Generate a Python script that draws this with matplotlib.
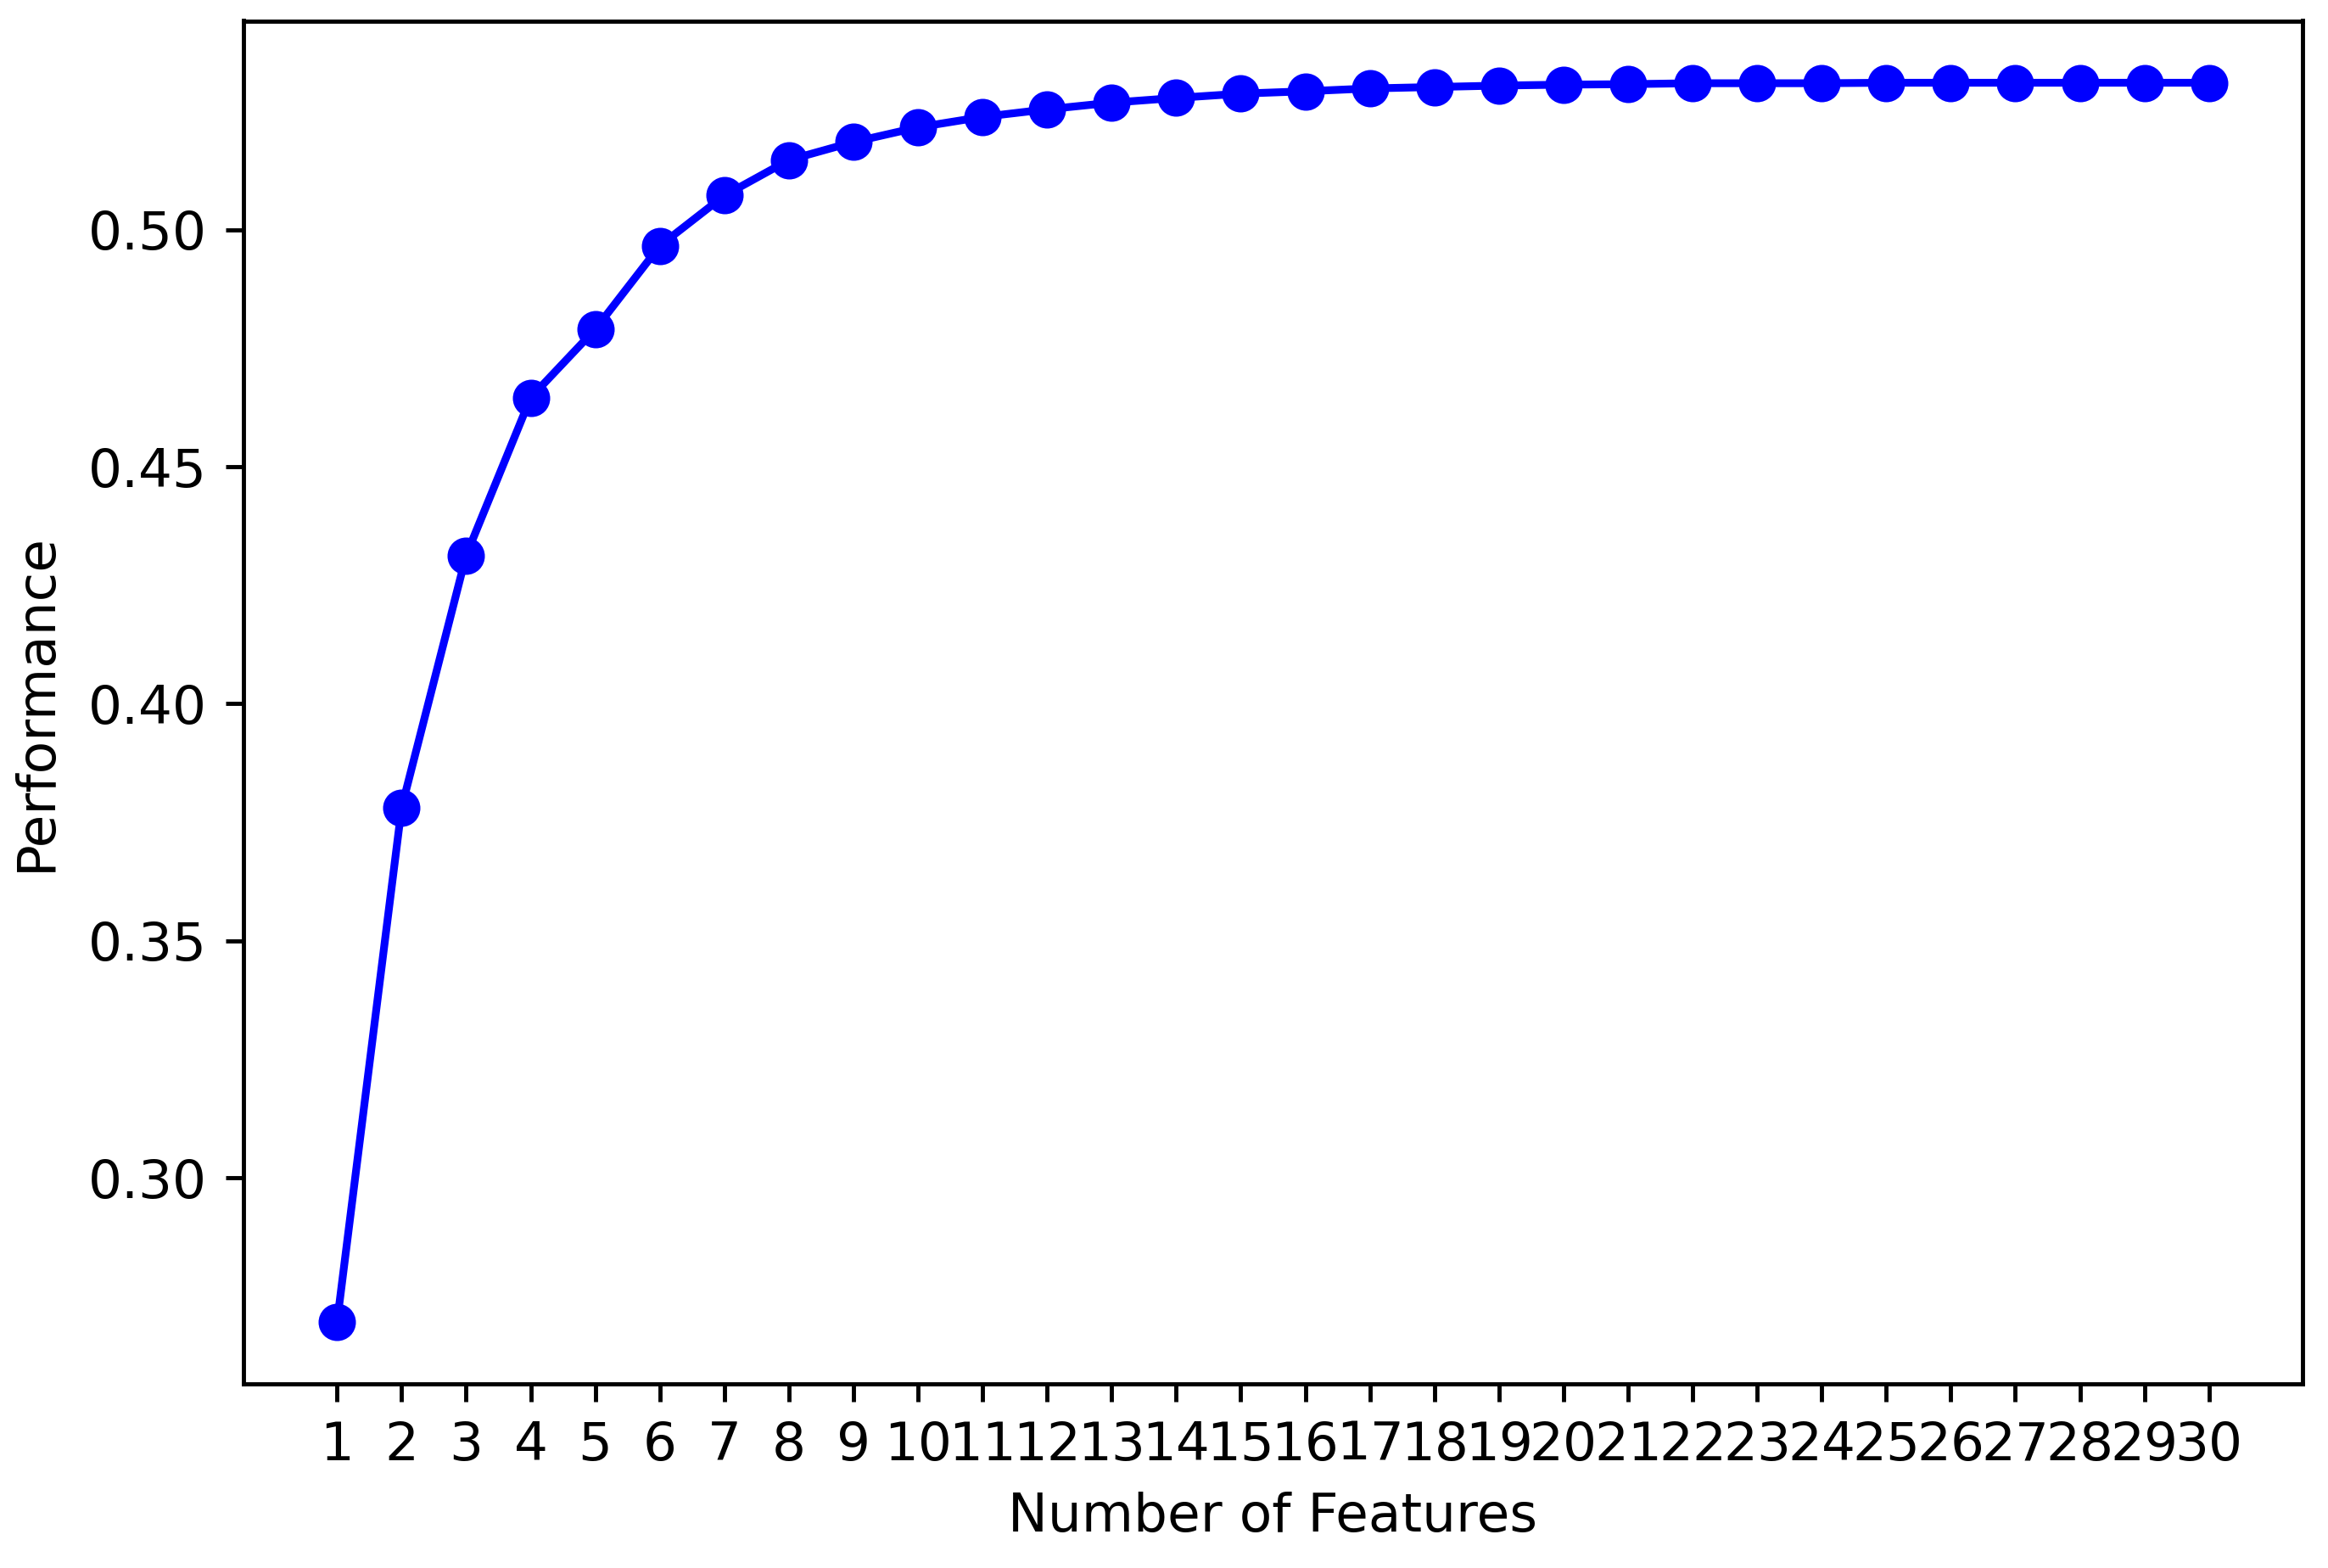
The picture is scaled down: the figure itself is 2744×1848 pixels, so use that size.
import numpy as np
import matplotlib
matplotlib.use("Agg")
import matplotlib.pyplot as plt

n_features = list(range(1, 31))
performance = [0.2696, 0.3781, 0.4313, 0.4646, 0.4790, 0.4966, 0.5072, 0.5147,
               0.5185, 0.5216, 0.5238, 0.5254, 0.5268, 0.5278, 0.5287, 0.5292,
               0.5298, 0.5301, 0.5304, 0.5306, 0.5307, 0.5309, 0.5309, 0.5309,
               0.5310, 0.5310, 0.5310, 0.5310, 0.5310, 0.5310]

plt.rcParams["font.size"] = 10.3

W, H, dpi = 2744, 1848, 440
fig = plt.figure(figsize=(W/dpi, H/dpi), dpi=dpi)
ax = fig.add_axes([287/W, 1-1631/H, (2714-287)/W, (1631-24.5)/H])

ax.plot(n_features, performance, marker="o", color="b", linewidth=1.5, markersize=6.2)
ax.set_xticks(n_features)
ax.set_xlabel("Number of Features")
ax.set_ylabel("Performance", labelpad=5.2)

fig.savefig("out.png", dpi=dpi)
